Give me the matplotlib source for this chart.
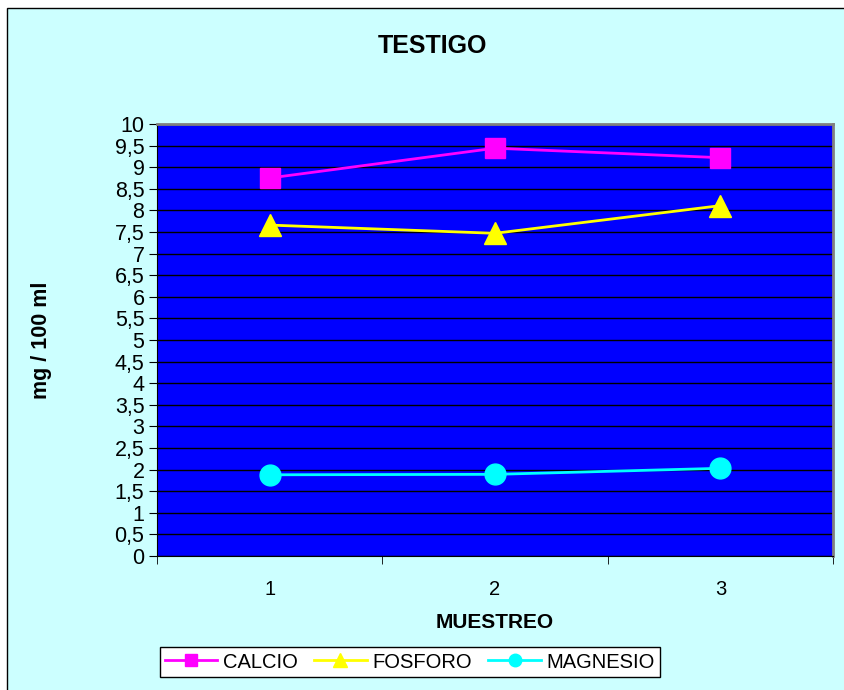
import matplotlib
matplotlib.use("Agg")
import matplotlib.pyplot as plt
from matplotlib.patches import Rectangle
import numpy as np

plt.rcParams['font.family'] = ['Liberation Sans', 'DejaVu Sans']

muestreo = [1, 2, 3]
calcio = [8.75, 9.44, 9.22]
fosforo = [7.66, 7.47, 8.11]
magnesio = [1.88, 1.89, 2.03]
y_ticks = np.arange(0, 10.01, 0.5)
y_labels = [("%g" % v).replace(".", ",") for v in y_ticks]

fig = plt.figure(figsize=(8.45, 6.9), dpi=100)
fig.patch.set_facecolor("white")
# chart area: frame visible only on top and left (rest cut off)
fig.patches.append(Rectangle((7 / 845, -10 / 690), 860 / 845, 692 / 690,
                             transform=fig.transFigure, facecolor="#CCFFFF",
                             edgecolor="black", linewidth=1, zorder=-10))

ax = fig.add_axes([157 / 845, 1 - 556 / 690, 676 / 845, 432 / 690])
ax.set_facecolor("#0000FF")

ax.plot(muestreo, calcio, color="#FF00FF", lw=2, marker="s", ms=15,
        mec="#FF00FF", label="CALCIO", zorder=3)
ax.plot(muestreo, fosforo, color="#FFFF00", lw=2, marker="^", ms=16,
        mec="#FFFF00", label="FOSFORO", zorder=3)
ax.plot(muestreo, magnesio, color="#00FFFF", lw=2, marker="o", ms=15,
        mec="#00FFFF", label="MAGNESIO", zorder=3)

ax.set_xlim(0.5, 3.5)
ax.set_ylim(0, 10)
ax.set_yticks(y_ticks)
ax.set_yticklabels(y_labels, fontsize=15.5)
ax.yaxis.grid(True, color="black", lw=1)
ax.set_axisbelow(True)

ax.set_xticks(muestreo)
ax.set_xticklabels([str(m) for m in muestreo], fontsize=14.5)
ax.set_xticks([0.5, 1.5, 2.5, 3.5], minor=True)
ax.tick_params(axis="x", which="major", length=0, pad=17)
ax.tick_params(axis="x", which="minor", length=6, direction="out")
ax.tick_params(axis="y", length=6, direction="out", pad=3)

ax.spines["left"].set_color("black")
ax.spines["bottom"].set_color("black")
ax.spines["top"].set_color("#808080")
ax.spines["right"].set_color("#808080")
ax.spines["top"].set_linewidth(2)
ax.spines["right"].set_linewidth(2)

fig.text(432 / 845, 1 - 46 / 690, "TESTIGO", ha="center", va="center",
         fontsize=18, fontweight="bold")
fig.text(42 / 845, 1 - 340 / 690, "mg / 100 ml", ha="center", va="center",
         rotation=90, fontsize=15.5, fontweight="bold")
fig.text(495 / 845, 1 - 622 / 690, "MUESTREO", ha="center", va="center",
         fontsize=15, fontweight="bold")

leg = fig.legend(loc="center", bbox_to_anchor=(410 / 845, 1 - 662 / 690),
                 ncol=3, fontsize=14.5, frameon=True, fancybox=False,
                 edgecolor="black", facecolor="white", framealpha=1,
                 handlelength=2.6, columnspacing=0.8, handletextpad=0.3,
                 borderpad=0.25, markerscale=0.6)

fig.savefig("out.png", dpi=100, facecolor=fig.get_facecolor())
